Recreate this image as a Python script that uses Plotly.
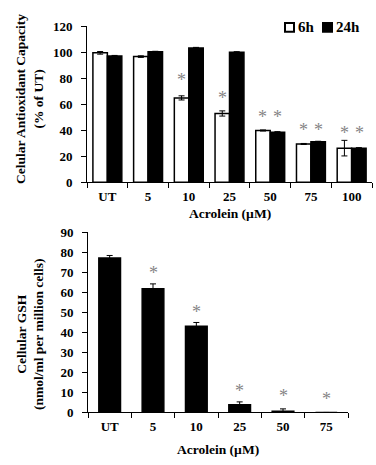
import plotly.graph_objects as go

# Top panel data
cats_top = ["UT", "5", "10", "25", "50", "75", "100"]
cap_6h = [99.6, 96.7, 64.9, 52.9, 39.8, 29.4, 26.2]
cap_6h_err = [1.0, 0.6, 1.6, 2.0, 0.4, 0.4, 6.0]
cap_24h = [97.2, 100.4, 103.4, 100.1, 38.5, 31.1, 26.2]
cap_24h_err = [0.4, 0.4, 0.4, 0.4, 0.4, 0.4, 0.4]
star_top_6h = [None, None, 79, 65, 50, 40.5, 38]
star_top_24h = [None, None, None, None, 50, 40.5, 38]
series_names = ["6h", "24h"]
series_colors = ["white", "black"]

# Bottom panel data
cats_bot = ["UT", "5", "10", "25", "50", "75"]
gsh = [77.2, 61.9, 43.1, 3.9, 0.6, 0.0]
gsh_err = [1.3, 2.4, 1.9, 1.4, 1.2, 0.0]
star_bot = [None, 69.6, 50.3, 10.9, 8.0, 6.6]

W, H = 376, 465
FONT = "Liberation Serif, Times New Roman, DejaVu Serif, serif"

fig = go.Figure()
for name, col, vals, errs in zip(series_names, series_colors, [cap_6h, cap_24h], [cap_6h_err, cap_24h_err]):
    fig.add_trace(go.Bar(
        x=cats_top, y=vals, name=name, xaxis="x", yaxis="y", showlegend=False,
        marker=dict(color=col, line=dict(color="black", width=1.5)),
        error_y=dict(type="data", array=errs, color="black", thickness=1, width=3),
    ))
fig.add_trace(go.Bar(
    x=cats_bot, y=gsh, name="GSH", xaxis="x2", yaxis="y2", showlegend=False,
    width=0.5,
    marker=dict(color="black", line=dict(color="black", width=1.5)),
    error_y=dict(type="data", array=gsh_err, color="black", thickness=1, width=3),
))

annotations = []
shapes = []
star_font = dict(family=FONT, size=18, color="#858585")
for i, s in enumerate(star_top_6h):
    if s is not None:
        annotations.append(dict(x=i, y=s, xref="x", yref="y", text="*", showarrow=False,
                                xshift=-7.5, font=star_font, yanchor="middle"))
for i, s in enumerate(star_top_24h):
    if s is not None:
        annotations.append(dict(x=i, y=s, xref="x", yref="y", text="*", showarrow=False,
                                xshift=7.5, font=star_font, yanchor="middle"))
for i, s in enumerate(star_bot):
    if s is not None:
        annotations.append(dict(x=i, y=s, xref="x2", yref="y2", text="*", showarrow=False,
                                font=star_font, yanchor="middle"))

title_font = dict(family=FONT, size=13.5, color="black")
annotations += [
    dict(x=30 / W, y=1 - 95 / H, xref="paper", yref="paper", textangle=-90,
         text="<b>Celular Antioxidant Capacity<br>(% of UT)</b>", showarrow=False,
         font=title_font, xanchor="center", yanchor="middle"),
    dict(x=(87 + 372) / 2 / W, y=1 - 213 / H, xref="paper", yref="paper",
         text="<b>Acrolein (µM)</b>", showarrow=False, font=title_font,
         xanchor="center", yanchor="middle"),
    dict(x=30 / W, y=1 - 338 / H, xref="paper", yref="paper", textangle=-90,
         text="<b>Cellular GSH<br>(nmol/ml per million cells)</b>", showarrow=False,
         font=title_font, xanchor="center", yanchor="middle"),
    dict(x=(88 + 348) / 2 / W, y=1 - 457 / H, xref="paper", yref="paper",
         text="<b>Acrolein (µM)</b>", showarrow=False, font=title_font,
         xanchor="center", yanchor="middle"),
]

# Manual legend (small square + label)
leg_x = [285, 323]
leg_y = 21
for lx, name, col in zip(leg_x, series_names, series_colors):
    shapes.append(dict(type="rect", xref="paper", yref="paper",
                       x0=lx / W, x1=(lx + 9) / W, y0=1 - (leg_y + 4.5) / H, y1=1 - (leg_y - 4.5) / H,
                       fillcolor=col, line=dict(color="black", width=2)))
    annotations.append(dict(x=(lx + 11) / W, y=1 - leg_y / H, xref="paper", yref="paper",
                            text=f"<b>{name}</b>", showarrow=False, xanchor="left", yanchor="middle",
                            font=dict(family=FONT, size=15, color="black")))

tick_font = dict(family=FONT, size=13, color="black")
xcommon = dict(type="category", showline=True, linecolor="black", linewidth=1,
               ticks="outside", tickson="boundaries", ticklen=5, tickcolor="black",
               showgrid=False, tickfont=tick_font, fixedrange=True, ticklabelstandoff=2,
               tickprefix="<b>", ticksuffix="</b>", tickangle=0)
ycommon = dict(showline=True, linecolor="black", linewidth=1, ticks="outside",
               ticklen=5, tickcolor="black", showgrid=False, zeroline=False,
               tickfont=tick_font, fixedrange=True, tickprefix="<b>", ticksuffix="</b>",
               ticklabelstandoff=6)

fig.update_layout(
    width=W, height=H,
    margin=dict(l=0, r=0, t=0, b=0),
    paper_bgcolor="white", plot_bgcolor="white",
    barmode="group", bargap=0.29, bargroupgap=0,
    font=dict(family=FONT, color="black"),
    xaxis=dict(domain=[87 / W, 372 / W], anchor="y", range=[-0.5, len(cats_top) - 0.5], **xcommon),
    yaxis=dict(domain=[1 - 181 / H, 1 - 20 / H], anchor="x", range=[0, 120], dtick=20, **ycommon),
    xaxis2=dict(domain=[88 / W, 348 / W], anchor="y2", range=[-0.5, len(cats_bot) - 0.5], **xcommon),
    yaxis2=dict(domain=[1 - 419 / H, 1 - 233 / H], anchor="x2", range=[0, 90], dtick=10, **ycommon),
    annotations=annotations,
    shapes=shapes,
    showlegend=False,
)

fig.write_html("out.html")
